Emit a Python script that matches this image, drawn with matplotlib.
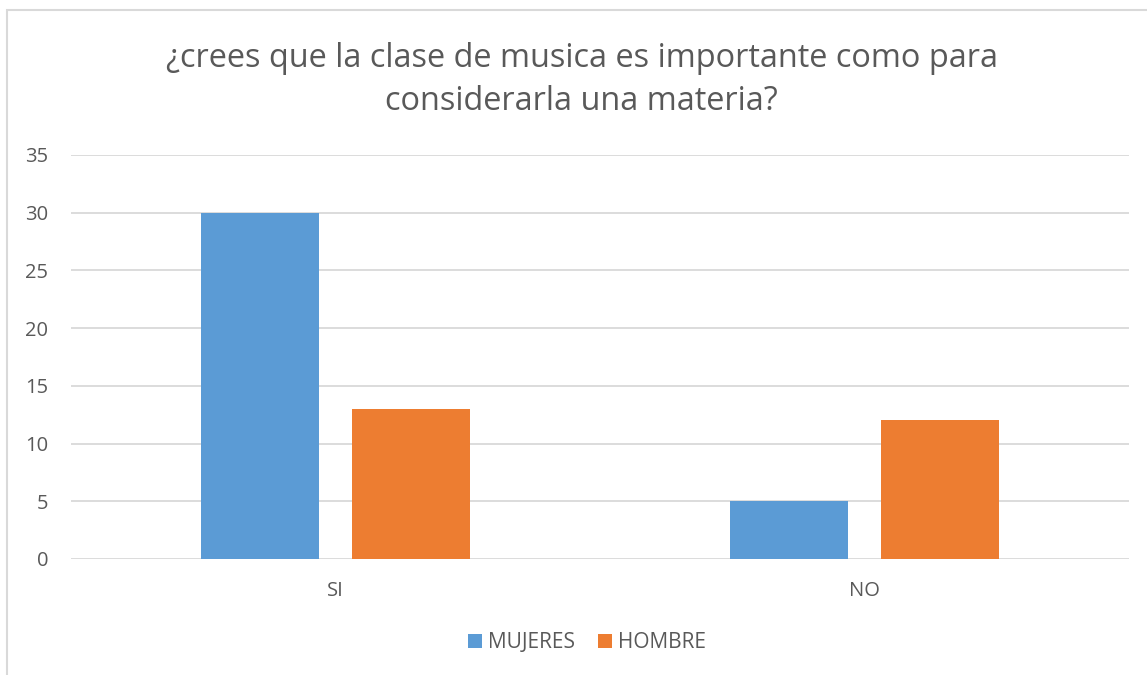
import matplotlib.pyplot as plt
from matplotlib.patches import Rectangle
import numpy as np

# Datos
categorias = ["SI", "NO"]
mujeres = [30, 5]
hombre = [13, 12]
series = ["MUJERES", "HOMBRE"]
colores = ["#5B9BD5", "#ED7D31"]

plt.rcParams['font.family'] = ['Open Sans', 'DejaVu Sans']
gris = "#595959"

fig = plt.figure(figsize=(11.47, 6.75), dpi=100)
ax = fig.add_axes([71 / 1147, 1 - 559 / 675, (1129 - 71) / 1147, (559 - 155) / 675])

x = np.arange(len(categorias))
ancho = 0.2235
desp = 0.1427
ax.bar(x - desp, mujeres, ancho, color=colores[0], label=series[0], zorder=3)
ax.bar(x + desp, hombre, ancho, color=colores[1], label=series[1], zorder=3)

ax.set_xlim(-0.5, 1.5)
ax.set_ylim(0, 35)
ax.set_yticks(range(0, 36, 5))
ax.set_xticks(x)
ax.set_xticklabels(categorias)
ax.grid(axis='y', color="#d9d9d9", linewidth=1.3, zorder=0)
for s in ax.spines.values():
    s.set_visible(False)
ax.tick_params(length=0, colors=gris, labelsize=14.5)
ax.tick_params(axis='y', pad=16.5)
ax.tick_params(axis='x', pad=16)

fig.text(0.507, 1 - 80 / 675, "¿crees que la clase de musica es importante como para\nconsiderarla una materia?",
         ha='center', va='center', fontsize=23.4, color=gris, linespacing=1.38)

leg = fig.legend(loc='center', bbox_to_anchor=(0.512, 1 - 643 / 675), ncol=2, frameon=False,
                 fontsize=15, handlelength=0.67, handleheight=0.67, handletextpad=0.3, columnspacing=1.1)
for t in leg.get_texts():
    t.set_color(gris)

# Marco del gráfico
fig.patches.append(Rectangle((7 / 1147, -0.1), 1.2, 1.1 - 10 / 675, transform=fig.transFigure,
                             fill=False, edgecolor="#d9d9d9", linewidth=1.5))

fig.savefig("out.png", dpi=100)
